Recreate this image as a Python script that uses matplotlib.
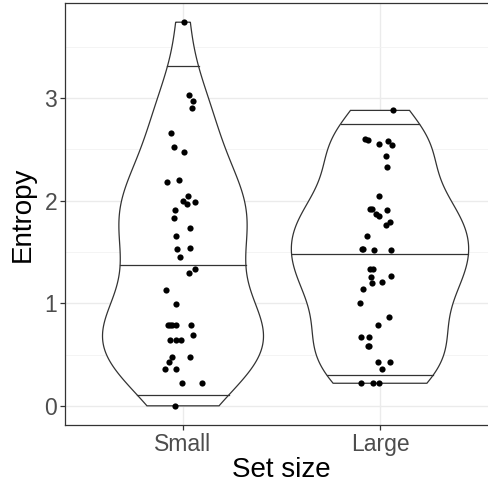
import numpy as np
import matplotlib
matplotlib.use("Agg")
import matplotlib.pyplot as plt

plt.rcParams['font.family'] = ['Liberation Sans', 'DejaVu Sans']

groups = ["Small", "Large"]

# entropy per trial, and the horizontal jitter offset of each dot
small_entropy = [3.74, 3.03, 2.97, 2.90, 2.66, 2.52, 2.47, 2.18, 2.20, 2.05,
                 2.00, 1.97, 1.99, 1.91, 1.83, 1.73, 1.66, 1.53, 1.54, 1.45,
                 1.33, 1.29, 1.13, 0.99, 0.79, 0.79, 0.79, 0.79, 0.79, 0.69,
                 0.64, 0.64, 0.64, 0.48, 0.48, 0.43, 0.36, 0.36, 0.22, 0.22,
                 0.00]
small_jitter = [0.005, 0.032, 0.052, 0.047, -0.061, -0.044, 0.004, -0.081, -0.020, 0.024,
                -0.002, 0.020, 0.061, -0.041, -0.044, 0.034, -0.034, -0.032, 0.036, -0.017,
                0.059, 0.030, -0.088, -0.034, -0.075, -0.057, -0.036, -0.066, 0.039, 0.051,
                -0.066, -0.037, -0.010, -0.057, 0.036, -0.070, -0.093, -0.036, -0.007, 0.096,
                -0.042]

large_entropy = [2.88, 2.60, 2.59, 2.55, 2.58, 2.54, 2.44, 2.33, 2.05, 1.92,
                 1.92, 1.91, 1.87, 1.85, 1.76, 1.79, 1.66, 1.53, 1.53, 1.52,
                 1.52, 1.33, 1.33, 1.26, 1.27, 1.20, 1.21, 1.14, 1.00, 0.87,
                 0.79, 0.67, 0.67, 0.58, 0.58, 0.43, 0.43, 0.36, 0.22, 0.22, 0.22]
large_jitter = [0.066, -0.076, -0.059, -0.004, 0.042, 0.059, 0.029, 0.036, -0.004, -0.051,
                -0.039, 0.037, -0.020, -0.004, 0.030, 0.051, -0.064, -0.093, -0.088, -0.032,
                0.054, -0.051, -0.037, -0.047, 0.054, -0.042, 0.009, -0.088, -0.102, 0.044,
                -0.010, -0.096, -0.056, -0.059, -0.054, -0.009, 0.051, 0.009, -0.098, -0.034, -0.005]

quantiles = [0.025, 0.5, 0.975]

data = [np.array(small_entropy), np.array(large_entropy)]
jitter = [np.array(small_jitter), np.array(large_jitter)]


def kde_trimmed(v, n=512):
    # gaussian kde with R's bw.nrd0, evaluated between min and max
    sd = v.std(ddof=1)
    iqr = np.subtract(*np.percentile(v, [75, 25]))
    bw = 0.9 * min(sd, iqr / 1.34) * len(v) ** -0.2
    grid = np.linspace(v.min(), v.max(), n)
    z = (grid[:, None] - v[None, :]) / bw
    dens = np.exp(-0.5 * z ** 2).sum(axis=1) / (len(v) * bw * np.sqrt(2 * np.pi))
    return grid, dens


dens = [kde_trimmed(v) for v in data]
dmax = max(d.max() for _, d in dens)

fig = plt.figure(figsize=(4.88, 4.88), dpi=100)
ax = fig.add_axes([64.8 / 488, 63 / 488, 433.4 / 488, 422 / 488])

edge = "#333333"
for i, ((grid, d), v, jx) in enumerate(zip(dens, data, jitter)):
    c = i + 1
    half = 0.45 * d / dmax
    xs = np.concatenate([c - half, (c + half)[::-1]])
    ys = np.concatenate([grid, grid[::-1]])
    ax.fill(xs, ys, facecolor="white", edgecolor=edge, linewidth=0.9, zorder=2)
    cdf = np.cumsum(d) / d.sum()
    for q in quantiles:
        yq = np.interp(q, cdf, grid)
        w = np.interp(yq, grid, half)
        ax.plot([c - w, c + w], [yq, yq], color=edge, linewidth=0.9, zorder=3)
    ax.scatter(c + jx, v, s=20, color="black", linewidths=0, zorder=4)

allv = np.concatenate(data)
rng = allv.max() - allv.min()
ax.set_ylim(allv.min() - 0.05 * rng, allv.max() + 0.05 * rng)
ax.set_xlim(0.4, 2.6)

ax.set_xticks([1, 2])
ax.set_xticklabels(groups)
ax.set_yticks([0, 1, 2, 3])
ax.set_yticks([0.5, 1.5, 2.5, 3.5], minor=True)
ax.grid(True, which="major", color="#EBEBEB", linewidth=1.0, zorder=0)
ax.grid(True, which="minor", axis="y", color="#F2F2F2", linewidth=0.6, zorder=0)
ax.set_axisbelow(True)

for s in ax.spines.values():
    s.set_color(edge)
    s.set_linewidth(0.9)

ax.tick_params(which="major", length=3.6, width=0.9, color=edge,
               labelsize=16.5, labelcolor="#4D4D4D", pad=2)
ax.tick_params(which="minor", length=0)

ax.set_xlabel("Set size", fontsize=20, labelpad=1)
ax.set_ylabel("Entropy", fontsize=20, labelpad=6)

fig.savefig("out.png", dpi=100)
